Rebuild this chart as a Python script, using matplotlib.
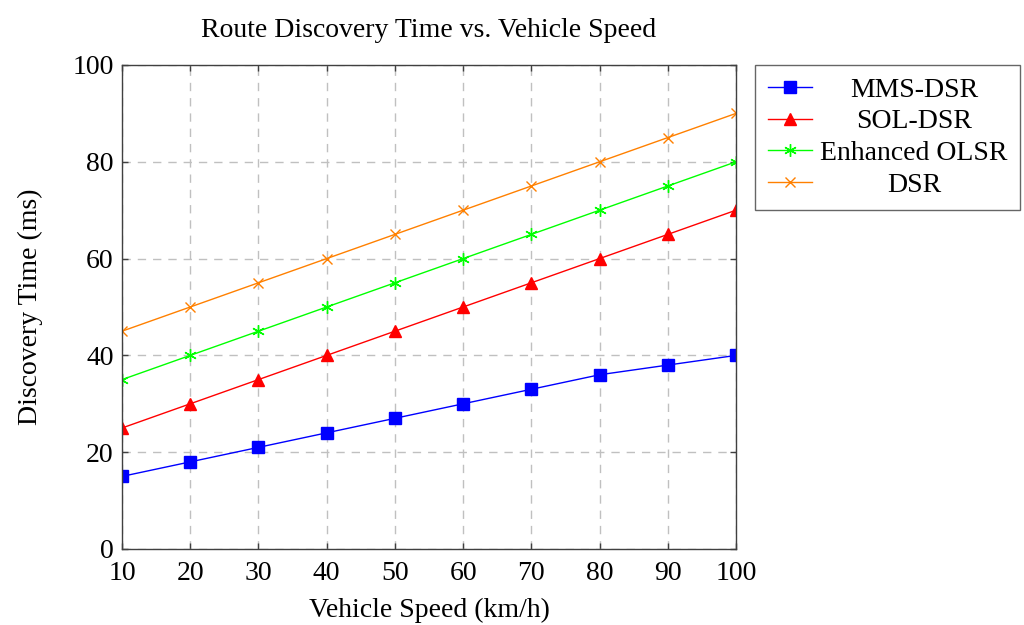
import matplotlib
matplotlib.use("Agg")
import matplotlib.pyplot as plt

speeds = [10, 20, 30, 40, 50, 60, 70, 80, 90, 100]
mms_dsr = [15, 18, 21, 24, 27, 30, 33, 36, 38, 40]
sol_dsr = [25, 30, 35, 40, 45, 50, 55, 60, 65, 70]
enh_olsr = [35, 40, 45, 50, 55, 60, 65, 70, 75, 80]
dsr = [45, 50, 55, 60, 65, 70, 75, 80, 85, 90]
xticks = [10, 20, 30, 40, 50, 60, 70, 80, 90, 100]
yticks = [0, 20, 40, 60, 80, 100]

plt.rcParams['font.family'] = ['Liberation Serif', 'DejaVu Serif']

FS = 20
fig = plt.figure(figsize=(10.24, 6.25), dpi=100)
ax = fig.add_axes([122/1024, 1-549/625, (736-122)/1024, (549-65)/625])

ax.plot(speeds, mms_dsr, color='blue', marker='s', markersize=9, lw=1, label='MMS-DSR')
ax.plot(speeds, sol_dsr, color='red', marker='^', markersize=8.5, lw=1, label='SOL-DSR')
ax.plot(speeds, enh_olsr, color=(0, 1, 0), marker=(6, 2, 0), markersize=9, mew=1, lw=1, label='Enhanced OLSR')
ax.plot(speeds, dsr, color=(1, 0.5, 0), marker='x', markersize=7, mew=1, lw=1, label='DSR')

ax.set_xlim(10, 100)
ax.set_ylim(0, 100)
ax.set_xticks(xticks)
ax.set_yticks(yticks)
ax.grid(True, color='#c0c0c0', linestyle=(0, (6, 5)), lw=1)
ax.tick_params(direction='in', top=True, right=True, length=4, width=1, colors='#404040',
               labelcolor='black', labelsize=FS)
ax.tick_params(axis='x', pad=9)
ax.tick_params(axis='y', pad=6)
for s in ax.spines.values():
    s.set_color('#404040')
    s.set_linewidth(1)

ax.set_title('Route Discovery Time vs. Vehicle Speed', fontsize=FS, pad=20)
ax.set_xlabel('Vehicle Speed (km/h)', fontsize=FS, labelpad=8)
ax.set_ylabel('Discovery Time (ms)', fontsize=FS, labelpad=21)

leg = ax.legend(loc='upper left', bbox_to_anchor=(755/1024, 1-65/625), bbox_transform=fig.transFigure,
                fontsize=FS, frameon=True,
                fancybox=False, edgecolor='#404040', handlelength=1.6, borderaxespad=0,
                labelspacing=0.22, handletextpad=0.3, borderpad=0.45)
leg.get_frame().set_linewidth(1)
fig.canvas.draw()
texts = leg.get_texts()
w = max(t.get_window_extent().width for t in texts)
for t in texts:
    t.set_position((w / 2 - t.get_window_extent().width / 2, 0))

fig.savefig('out.png', dpi=100)
